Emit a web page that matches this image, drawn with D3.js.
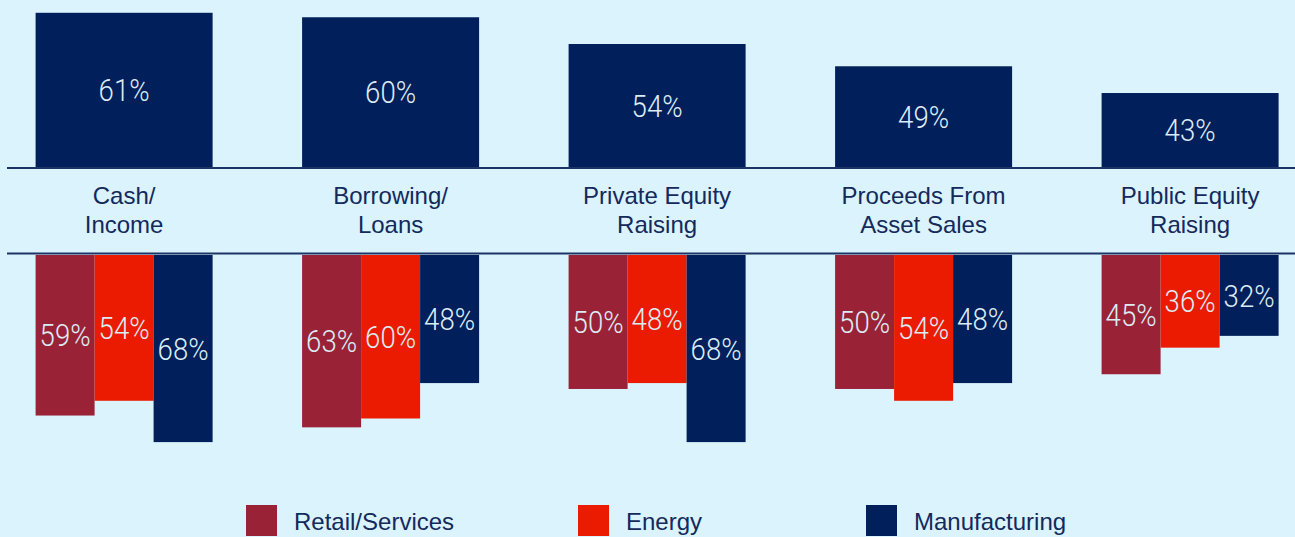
<!DOCTYPE html>
<html>
<head>
<meta charset="utf-8">
<script src="https://cdn.jsdelivr.net/npm/d3@7"></script>
<style>
  html, body { margin: 0; padding: 0; background: #daf3fc; }
  svg { display: block; }
</style>
</head>
<body>
<svg id="chart" width="1295" height="537"></svg>
<script>
// ---- data ----
const categories = [["Cash/", "Income"], ["Borrowing/", "Loans"], ["Private Equity", "Raising"], ["Proceeds From", "Asset Sales"], ["Public Equity", "Raising"]];
const overallValues = [61, 60, 54, 49, 43];
const seriesNames = ["Retail/Services", "Energy", "Manufacturing"];
const retailValues = [59, 63, 50, 50, 45];
const energyValues = [54, 60, 48, 54, 36];
const manufacturingValues = [68, 48, 68, 48, 32];

// ---- styles ----
const colors = ["#9a2237", "#ea1b00", "#001f5b"];
const navy = "#001f5b";
const textNavy = "#14295c";
const labelColor = "#dcecf5";

const W = 1295, H = 537;
const svg = d3.select("#chart");
svg.append("rect").attr("width", W).attr("height", H).attr("fill", "#daf3fc");

const catKeys = categories.map((c, i) => i);
const x = d3.scaleBand().domain(catKeys).range([35.6, 1278.6]).paddingInner(0.3358).paddingOuter(0);
const xSub = d3.scaleBand().domain(d3.range(seriesNames.length)).range([0, x.bandwidth()]).padding(0);

const topBase = 167, bottomBase = 255;
const yTop = d3.scaleLinear().domain([26.4, 61]).range([topBase, topBase - 154.2]);
const yBot = d3.scaleLinear().domain([4.6, 68]).range([bottomBase, bottomBase + 187.1]);

const labelFont = "Roboto, 'Liberation Sans', sans-serif";

function pctLabel(sel) {
  sel.attr("text-anchor", "middle")
    .attr("font-family", labelFont)
    .attr("font-weight", 300)
    .attr("font-size", 31)
    .attr("textLength", 51)
    .attr("lengthAdjust", "spacingAndGlyphs")
    .attr("fill", labelColor)
    .text(d => d + "%");
}

// top bars
const topG = svg.append("g");
topG.selectAll("rect").data(overallValues).join("rect")
  .attr("x", (d, i) => x(i))
  .attr("y", d => yTop(d))
  .attr("width", x.bandwidth())
  .attr("height", d => topBase - yTop(d))
  .attr("fill", navy);
topG.selectAll("text").data(overallValues).join("text")
  .attr("x", (d, i) => x(i) + x.bandwidth() / 2)
  .attr("y", d => (yTop(d) + topBase) / 2)
  .attr("dy", "0.36em")
  .call(pctLabel);

// baselines
svg.append("line").attr("x1", 7).attr("x2", W).attr("y1", 168).attr("y2", 168)
  .attr("stroke", "#1c3566").attr("stroke-width", 2.2);
svg.append("line").attr("x1", 7).attr("x2", W).attr("y1", 253.5).attr("y2", 253.5)
  .attr("stroke", "#1c3566").attr("stroke-width", 2.2);

// category labels
const catG = svg.append("g");
categories.forEach((lines, i) => {
  const cx = x(i) + x.bandwidth() / 2;
  const t = catG.append("text")
    .attr("x", cx)
    .attr("y", 204)
    .attr("text-anchor", "middle")
    .attr("font-family", "'Liberation Sans', Arial, sans-serif")
    .attr("font-size", 24)
    .attr("fill", textNavy);
  lines.forEach((ln, j) => {
    t.append("tspan").attr("x", cx).attr("dy", j === 0 ? 0 : 29).text(ln);
  });
});

// bottom grouped bars
const seriesValues = [retailValues, energyValues, manufacturingValues];
const botG = svg.append("g");
seriesValues.forEach((vals, s) => {
  botG.append("g").selectAll("rect").data(vals).join("rect")
    .attr("x", (d, i) => x(i) + xSub(s))
    .attr("y", bottomBase)
    .attr("width", xSub.bandwidth())
    .attr("height", d => yBot(d) - bottomBase)
    .attr("fill", colors[s]);
});
seriesValues.forEach((vals, s) => {
  botG.append("g").selectAll("text").data(vals).join("text")
    .attr("x", (d, i) => x(i) + xSub(s) + xSub.bandwidth() / 2)
    .attr("y", d => (bottomBase + yBot(d)) / 2)
    .attr("dy", "0.36em")
    .call(pctLabel);
});

// legend
const legendX = [246, 578, 866];
const leg = svg.append("g");
seriesNames.forEach((name, s) => {
  leg.append("rect").attr("x", legendX[s]).attr("y", 505).attr("width", 31).attr("height", 31).attr("fill", colors[s]);
  leg.append("text").attr("x", legendX[s] + 48).attr("y", 521).attr("dy", "0.36em")
    .attr("font-family", "'Liberation Sans', Arial, sans-serif")
    .attr("font-size", 24)
    .attr("fill", textNavy)
    .text(name);
});
</script>
</body>
</html>
